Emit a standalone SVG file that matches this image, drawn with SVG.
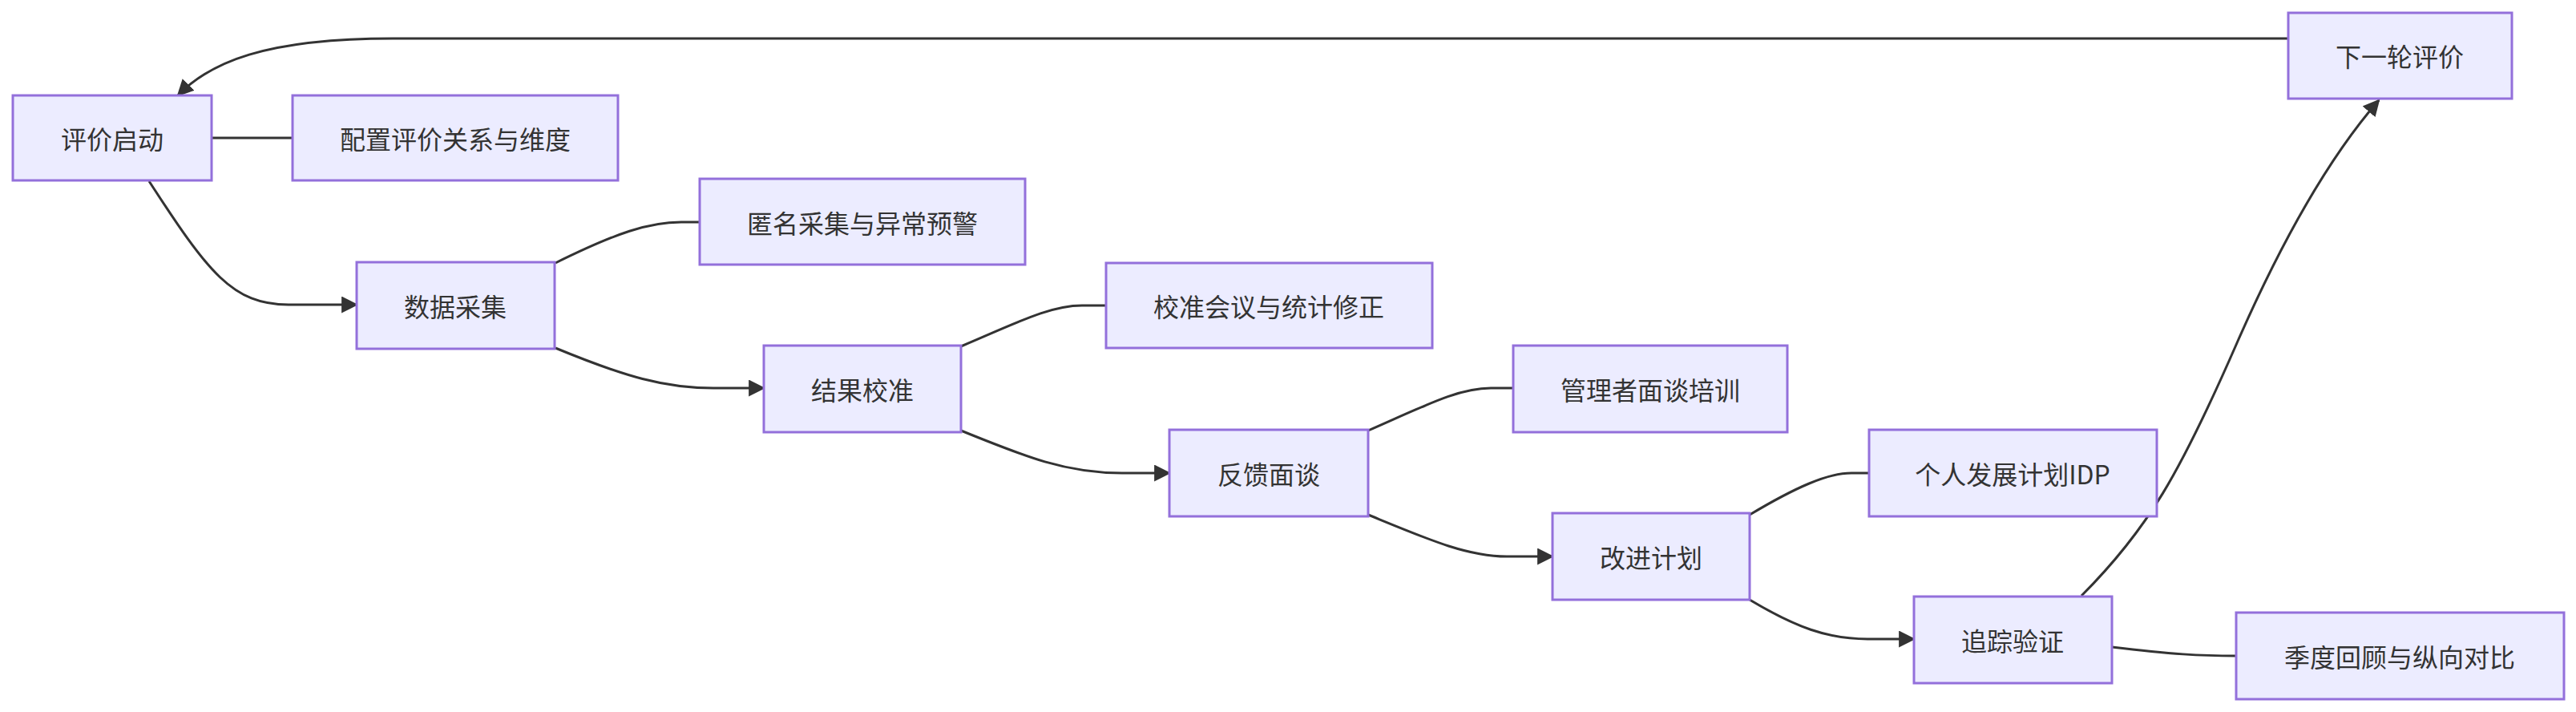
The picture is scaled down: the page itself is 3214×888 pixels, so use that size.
<svg xmlns="http://www.w3.org/2000/svg" width="3214" height="888" viewBox="0 0 3214 888">
<style>
.n rect{fill:#ECECFF;stroke:#9370DB;stroke-width:3}
.n text{font-family:"Noto Sans CJK SC","Noto Sans",sans-serif;font-size:32px;fill:#333;text-anchor:middle;dominant-baseline:central}
.e path{fill:none;stroke:#333;stroke-width:3}
</style>
<defs><marker id="a" viewBox="0 0 10 10" refX="9" refY="5" markerWidth="7" markerHeight="7" markerUnits="strokeWidth" orient="auto"><path d="M0,0L10,5L0,10z" fill="#333"/></marker></defs>
<rect width="3214" height="888" fill="#fff"/>
<g class="e">
<path d="M2855,48 L490,48 C330,48 262,78 222,119" marker-end="url(#a)"/>
<path d="M264,172 L365,172"/>
<path d="M186,226 C260,340 290,380 360,380 L445,380" marker-end="url(#a)"/>
<path d="M693,328 C770,290 810,277 850,277 L873,277"/>
<path d="M693,434 C780,470 830,484 890,484 L953,484" marker-end="url(#a)"/>
<path d="M1199,432 C1270,402 1310,381 1350,381 L1380,381"/>
<path d="M1199,537 C1280,570 1330,590 1400,590 L1459,590" marker-end="url(#a)"/>
<path d="M1707,537 C1780,505 1820,484 1860,484 L1888,484"/>
<path d="M1707,642 C1780,672 1830,694 1880,694 L1937,694" marker-end="url(#a)"/>
<path d="M2183,642 C2240,608 2280,590 2310,590 L2332,590"/>
<path d="M2183,748 C2240,782 2280,797 2330,797 L2388,797" marker-end="url(#a)"/>
<path d="M2635,807 C2710,816 2745,818 2790,818"/>
<path d="M2597,743 C2680,660 2720,590 2790,430 C2860,270 2920,180 2968,125" marker-end="url(#a)"/>
</g>
<g id="A" class="n"><rect x="16" y="119" width="248" height="106"/><text x="140" y="172">评价启动</text></g>
<g id="A1" class="n"><rect x="365" y="119" width="406" height="106"/><text x="568" y="172">配置评价关系与维度</text></g>
<g id="B" class="n"><rect x="445" y="327" width="247" height="108"/><text x="568" y="381">数据采集</text></g>
<g id="B1" class="n"><rect x="873" y="223" width="406" height="107"/><text x="1076" y="277">匿名采集与异常预警</text></g>
<g id="C" class="n"><rect x="953" y="431" width="246" height="108"/><text x="1076" y="485">结果校准</text></g>
<g id="C1" class="n"><rect x="1380" y="328" width="407" height="106"/><text x="1583" y="381">校准会议与统计修正</text></g>
<g id="D" class="n"><rect x="1459" y="536" width="248" height="108"/><text x="1583" y="590">反馈面谈</text></g>
<g id="D1" class="n"><rect x="1888" y="431" width="342" height="108"/><text x="2059" y="485">管理者面谈培训</text></g>
<g id="E" class="n"><rect x="1937" y="640" width="246" height="108"/><text x="2060" y="694">改进计划</text></g>
<g id="E1" class="n"><rect x="2332" y="536" width="359" height="108"/><text x="2511" y="590">个人发展计划IDP</text></g>
<g id="F" class="n"><rect x="2388" y="744" width="247" height="108"/><text x="2511" y="798">追踪验证</text></g>
<g id="F1" class="n"><rect x="2790" y="764" width="409" height="108"/><text x="2994" y="818">季度回顾与纵向对比</text></g>
<g id="G" class="n"><rect x="2855" y="16" width="279" height="107"/><text x="2994" y="69">下一轮评价</text></g>
</svg>
